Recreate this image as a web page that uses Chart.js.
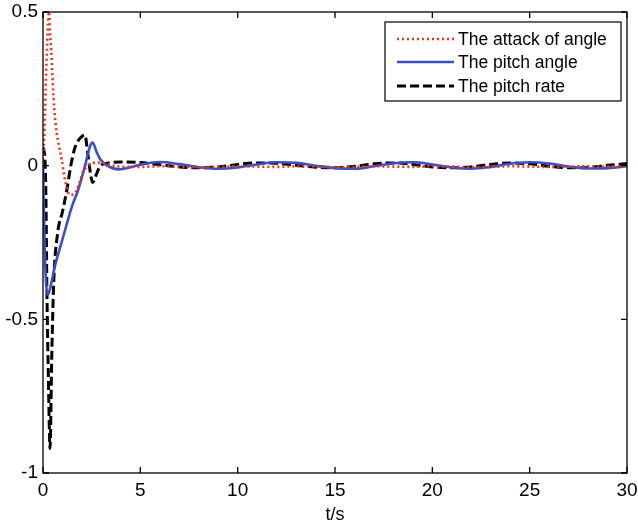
<!DOCTYPE html>
<html>
<head>
<meta charset="utf-8">
<script src="https://cdn.jsdelivr.net/npm/chart.js@4"></script>
<style>
  html, body { margin: 0; padding: 0; background: #fff; }
  #wrap { width: 638px; height: 526px; }
</style>
</head>
<body>
<div id="wrap"><canvas id="responseChart" width="638" height="526"></canvas></div>
<script>
// values
const seriesNames = ["The attack of angle", "The pitch angle", "The pitch rate"];

const attackTime  = [0, 0.08, 0.16, 0.31, 0.36, 0.45, 0.5, 0.58, 0.7, 0.79, 0.96, 1.13, 1.3, 1.45, 1.6, 1.73, 1.9, 2.06, 2.25, 2.42, 2.7, 2.93, 3.3, 4, 5, 6, 7, 8, 9, 10, 11, 12, 13, 14, 15, 16, 17, 18, 19, 20, 21, 22, 23, 24, 25, 26, 27, 28, 29, 30];
const attackValue = [0, 0.12, 0.3, 0.5, 0.435, 0.346, 0.27, 0.183, 0.108, 0.075, 0.02, -0.046, -0.088, -0.095, -0.09, -0.08, -0.05, -0.02, -0.005, 0.003, 0.01, 0.01, 0.004, -0.003, -0.004, -0.002, -0.003, -0.005, -0.004, -0.002, -0.003, -0.004, -0.002, -0.003, -0.005, -0.004, -0.002, -0.003, -0.004, -0.002, -0.003, -0.005, -0.004, -0.002, -0.003, -0.004, -0.003, -0.002, -0.003, -0.003];

const pitchTime  = [0, 0.1, 0.25, 0.4, 0.6, 1.0, 1.5, 1.8, 2.16, 2.4, 2.55, 2.75, 2.95, 3.3, 3.9, 4.5, 5, 6, 7, 8, 9, 10, 11, 12, 13, 14, 15, 16, 17, 18, 19, 20, 21, 22, 23, 24, 25, 26, 27, 28, 29, 30];
const pitchValue = [0, -0.3, -0.42, -0.39, -0.33, -0.24, -0.13, -0.08, 0, 0.06, 0.075, 0.045, 0.02, 0, -0.012, -0.005, 0.003, 0.012, 0.005, -0.005, -0.01, -0.006, 0.004, 0.011, 0.009, 0, -0.008, -0.01, -0.002, 0.008, 0.011, 0.004, -0.006, -0.01, -0.004, 0.006, 0.011, 0.007, -0.003, -0.009, -0.008, -0.002];

const rateTime  = [0, 0.1, 0.15, 0.2, 0.28, 0.36, 0.45, 0.55, 0.75, 1.0, 1.25, 1.4, 1.6, 1.75, 2.0, 2.15, 2.3, 2.45, 2.55, 2.7, 2.95, 3.3, 4, 5, 6, 7, 8, 9, 10, 11, 12, 13, 14, 15, 16, 17, 18, 19, 20, 21, 22, 23, 24, 25, 26, 27, 28, 29, 30];
const rateValue = [0.06, 0.02, -0.1, -0.4, -0.7, -0.92, -0.62, -0.38, -0.22, -0.15, -0.07, -0.01, 0.05, 0.075, 0.095, 0.1, 0.04, -0.03, -0.055, -0.035, 0, 0.008, 0.012, 0.01, 0.003, -0.004, -0.007, -0.004, 0.004, 0.009, 0.008, 0.001, -0.005, -0.007, -0.002, 0.006, 0.009, 0.004, -0.004, -0.007, -0.004, 0.004, 0.009, 0.006, -0.002, -0.007, -0.006, 0.001, 0.007];

const xTicks = [0, 5, 10, 15, 20, 25, 30];
const yTicks = [-1, -0.5, 0, 0.5];

const FONT = "'Liberation Sans', Arial, sans-serif";

function toPoints(times, values) {
    return times.map((t, i) => ({ x: t, y: values[i] }));
}

const lineStyles = [
    { color: "#f2311d", dash: [2, 3], width: 2.6 },
    { color: "#3b4fc4", dash: [], width: 2.6 },
    { color: "#000000", dash: [9, 4], width: 3 }
];

// frame, inward ticks and the boxed legend (MATLAB look)
const framePlugin = {
    id: "frame",
    afterDraw(chart) {
        const ctx = chart.ctx;
        const a = chart.chartArea;
        const xs = chart.scales.x, ys = chart.scales.y;
        ctx.save();
        ctx.strokeStyle = "#000";
        ctx.lineWidth = 1.3;
        ctx.strokeRect(a.left, a.top, a.right - a.left, a.bottom - a.top);
        ctx.beginPath();
        xTicks.forEach(v => {
            const px = xs.getPixelForValue(v);
            ctx.moveTo(px, a.bottom); ctx.lineTo(px, a.bottom - 6);
            ctx.moveTo(px, a.top); ctx.lineTo(px, a.top + 6);
        });
        yTicks.forEach(v => {
            const py = ys.getPixelForValue(v);
            ctx.moveTo(a.left, py); ctx.lineTo(a.left + 6, py);
            ctx.moveTo(a.right, py); ctx.lineTo(a.right - 6, py);
        });
        ctx.stroke();

        // legend box
        const bx = 385, by = 22, bw = 236, bh = 79;
        ctx.fillStyle = "#fff";
        ctx.fillRect(bx, by, bw, bh);
        ctx.lineWidth = 1.2;
        ctx.strokeRect(bx, by, bw, bh);
        const rows = [39, 62, 86];
        ctx.font = "17.5px " + FONT;
        ctx.textBaseline = "middle";
        ctx.textAlign = "left";
        seriesNames.forEach((name, i) => {
            const st = lineStyles[i];
            ctx.beginPath();
            ctx.strokeStyle = st.color;
            ctx.lineWidth = st.width;
            ctx.setLineDash(st.dash);
            ctx.moveTo(397, rows[i]);
            ctx.lineTo(454, rows[i]);
            ctx.stroke();
            ctx.setLineDash([]);
            ctx.fillStyle = "#000";
            ctx.fillText(name, 458, rows[i] + 1);
        });
        ctx.restore();
    }
};

const ctx = document.getElementById("responseChart").getContext("2d");

new Chart(ctx, {
    type: "line",
    data: {
        datasets: [
            { label: seriesNames[0], data: toPoints(attackTime, attackValue) },
            { label: seriesNames[1], data: toPoints(pitchTime, pitchValue) },
            { label: seriesNames[2], data: toPoints(rateTime, rateValue) }
        ].map((ds, i) => Object.assign(ds, {
            borderColor: lineStyles[i].color,
            borderWidth: lineStyles[i].width,
            borderDash: lineStyles[i].dash,
            pointRadius: 0,
            fill: false,
            cubicInterpolationMode: "monotone"
        }))
    },
    options: {
        responsive: false,
        animation: false,
        layout: { padding: { top: 12, right: 11, left: 0, bottom: 0 } },
        plugins: {
            legend: { display: false },
            tooltip: { enabled: false }
        },
        scales: {
            x: {
                type: "linear",
                min: 0,
                max: 30,
                afterBuildTicks: scale => { scale.ticks = xTicks.map(v => ({ value: v })); },
                afterFit: scale => {
                    scale.height = 53;
                    scale.paddingLeft = 0;
                    scale.paddingRight = 0;
                },
                grid: { display: false, drawTicks: false },
                border: { display: false },
                ticks: { color: "#000", padding: 6, font: { family: FONT, size: 19 }, callback: v => String(v) },
                title: {
                    display: true,
                    text: "t/s",
                    color: "#000",
                    padding: { top: 0, bottom: 0 },
                    font: { family: FONT, size: 18 }
                }
            },
            y: {
                type: "linear",
                min: -1,
                max: 0.5,
                afterBuildTicks: scale => { scale.ticks = yTicks.map(v => ({ value: v })); },
                afterFit: scale => {
                    scale.width = 43;
                    scale.paddingTop = 0;
                    scale.paddingBottom = 0;
                },
                grid: { display: false, drawTicks: false },
                border: { display: false },
                ticks: { color: "#000", padding: 5, font: { family: FONT, size: 19 }, callback: v => String(v) }
            }
        }
    },
    plugins: [framePlugin]
});
</script>
</body>
</html>
